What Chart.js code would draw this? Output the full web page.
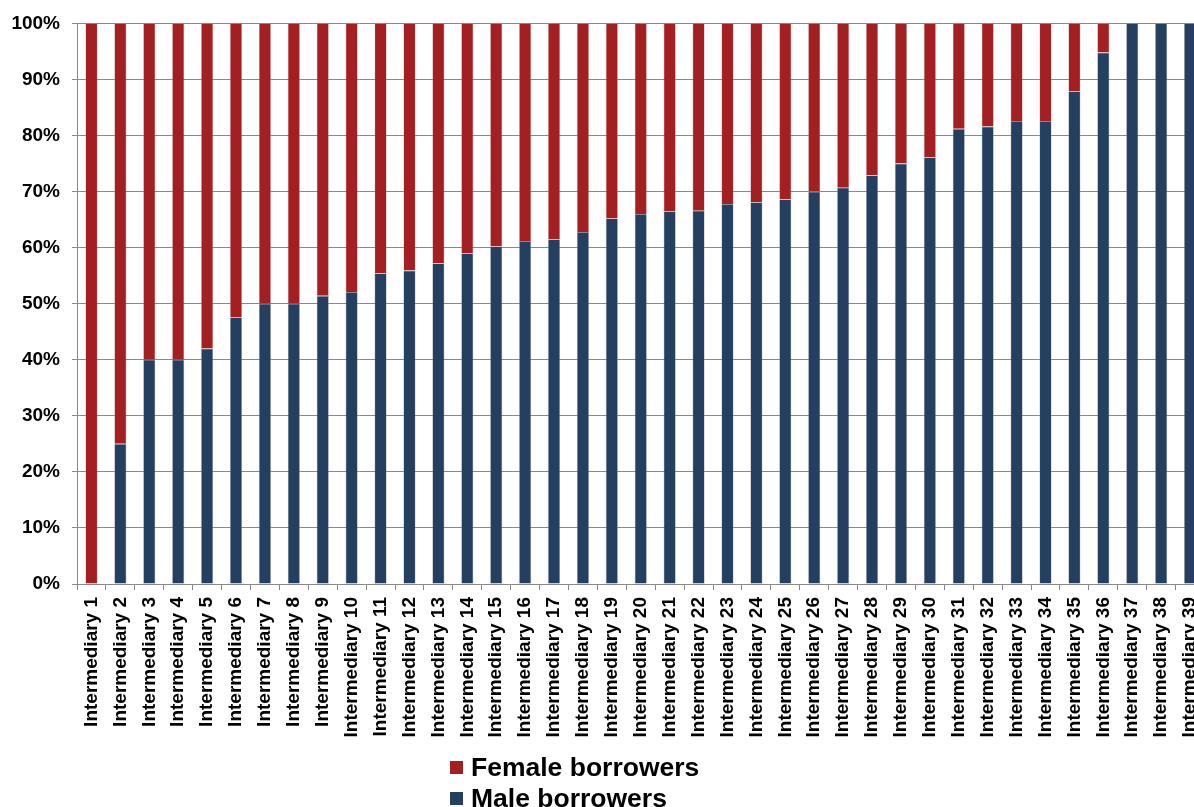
<!DOCTYPE html>
<html>
<head>
<meta charset="utf-8">
<script src="https://cdn.jsdelivr.net/npm/chart.js@4"></script>
<style>
    html, body { margin: 0; padding: 0; background: #fff; overflow: hidden; }
    #wrap { position: relative; width: 1194px; height: 807px; overflow: hidden; }
    #chartBox { position: absolute; left: 0; top: 0; width: 1220px; height: 807px; }
    #legend { position: absolute; left: 450px; top: 752px; font-family: "Liberation Sans", Arial, sans-serif; font-weight: bold; font-size: 26.5px; line-height: 31px; color: #000; }
    .item { display: flex; align-items: center; white-space: nowrap; }
    .box { width: 13px; height: 13px; margin-right: 8px; }
</style>
</head>
<body>
<div id="wrap">
    <div id="chartBox"><canvas id="genderChart" width="1220" height="807"></canvas></div>
    <div id="legend"></div>
</div>
<script>
const categories = [];
for (let i = 1; i <= 39; i++) categories.push('Intermediary ' + i);

// share of male borrowers per intermediary (%)
const maleValues = [0, 25, 40, 40, 42, 47.6, 50, 50, 51.4, 52.1, 55.4, 55.9, 57.2, 59.0, 60.2, 61.2, 61.5, 62.8, 65.2, 66.0,
    66.5, 66.6, 67.8, 68.1, 68.6, 70.0, 70.7, 72.9, 75.0, 76.1, 81.2, 81.6, 82.6, 82.6, 87.9, 94.8, 100, 100, 100];
// share of female borrowers per intermediary (%)
const femaleValues = [100, 75, 60, 60, 58, 52.4, 50, 50, 48.6, 47.9, 44.6, 44.1, 42.8, 41.0, 39.8, 38.8, 38.5, 37.2, 34.8, 34.0,
    33.5, 33.4, 32.2, 31.9, 31.4, 30.0, 29.3, 27.1, 25.0, 23.9, 18.8, 18.4, 17.4, 17.4, 12.1, 5.2, 0, 0, 0];
const yTicks = [0, 10, 20, 30, 40, 50, 60, 70, 80, 90, 100];

const fontFamily = '"Liberation Sans", Arial, sans-serif';
const gridColor = '#8a8a8a';

const ctx = document.getElementById('genderChart').getContext('2d');
const genderChart = new Chart(ctx, {
    type: 'bar',
    data: {
        labels: categories,
        datasets: [{
            label: 'Male borrowers',
            data: maleValues,
            backgroundColor: '#243F5F',
            borderColor: 'rgba(140, 140, 150, 0.7)',
            borderWidth: 0.6,
            categoryPercentage: 1,
            barPercentage: 0.42
        }, {
            label: 'Female borrowers',
            data: femaleValues,
            backgroundColor: '#A31F22',
            borderColor: 'rgba(190, 140, 140, 0.7)',
            borderWidth: 0.6,
            categoryPercentage: 1,
            barPercentage: 0.42
        }]
    },
    options: {
        responsive: false,
        animation: false,
        layout: { padding: { top: 22, right: 11, left: 0, bottom: 0 } },
        plugins: {
            legend: { display: false },
            tooltip: { enabled: false }
        },
        scales: {
            x: {
                stacked: true,
                grid: { drawOnChartArea: false, color: gridColor, tickLength: 6 },
                border: { color: gridColor, width: 1 },
                ticks: {
                    minRotation: 90,
                    maxRotation: 90,
                    autoSkip: false,
                    padding: 7,
                    color: '#000',
                    font: { family: fontFamily, size: 19, weight: 'bold' }
                },
                afterFit: function (scale) { scale.height = 223; }
            },
            y: {
                stacked: true,
                min: 0,
                max: 100,
                afterBuildTicks: function (scale) {
                    scale.ticks = yTicks.map(v => ({ value: v }));
                },
                grid: { color: gridColor, tickLength: 5 },
                border: { color: gridColor, width: 1 },
                ticks: {
                    padding: 12,
                    color: '#000',
                    font: { family: fontFamily, size: 19, weight: 'bold' },
                    callback: function (v) { return v + '%'; }
                },
                afterFit: function (scale) { scale.width = 77; }
            }
        }
    }
});

// legend below the chart, female first like the original
const legendBox = document.getElementById('legend');
genderChart.data.datasets.slice().reverse().forEach(function (ds) {
    const row = document.createElement('div');
    row.className = 'item';
    const sw = document.createElement('span');
    sw.className = 'box';
    sw.style.backgroundColor = ds.backgroundColor;
    const txt = document.createElement('span');
    txt.textContent = ds.label;
    row.appendChild(sw);
    row.appendChild(txt);
    legendBox.appendChild(row);
});
</script>
</body>
</html>
